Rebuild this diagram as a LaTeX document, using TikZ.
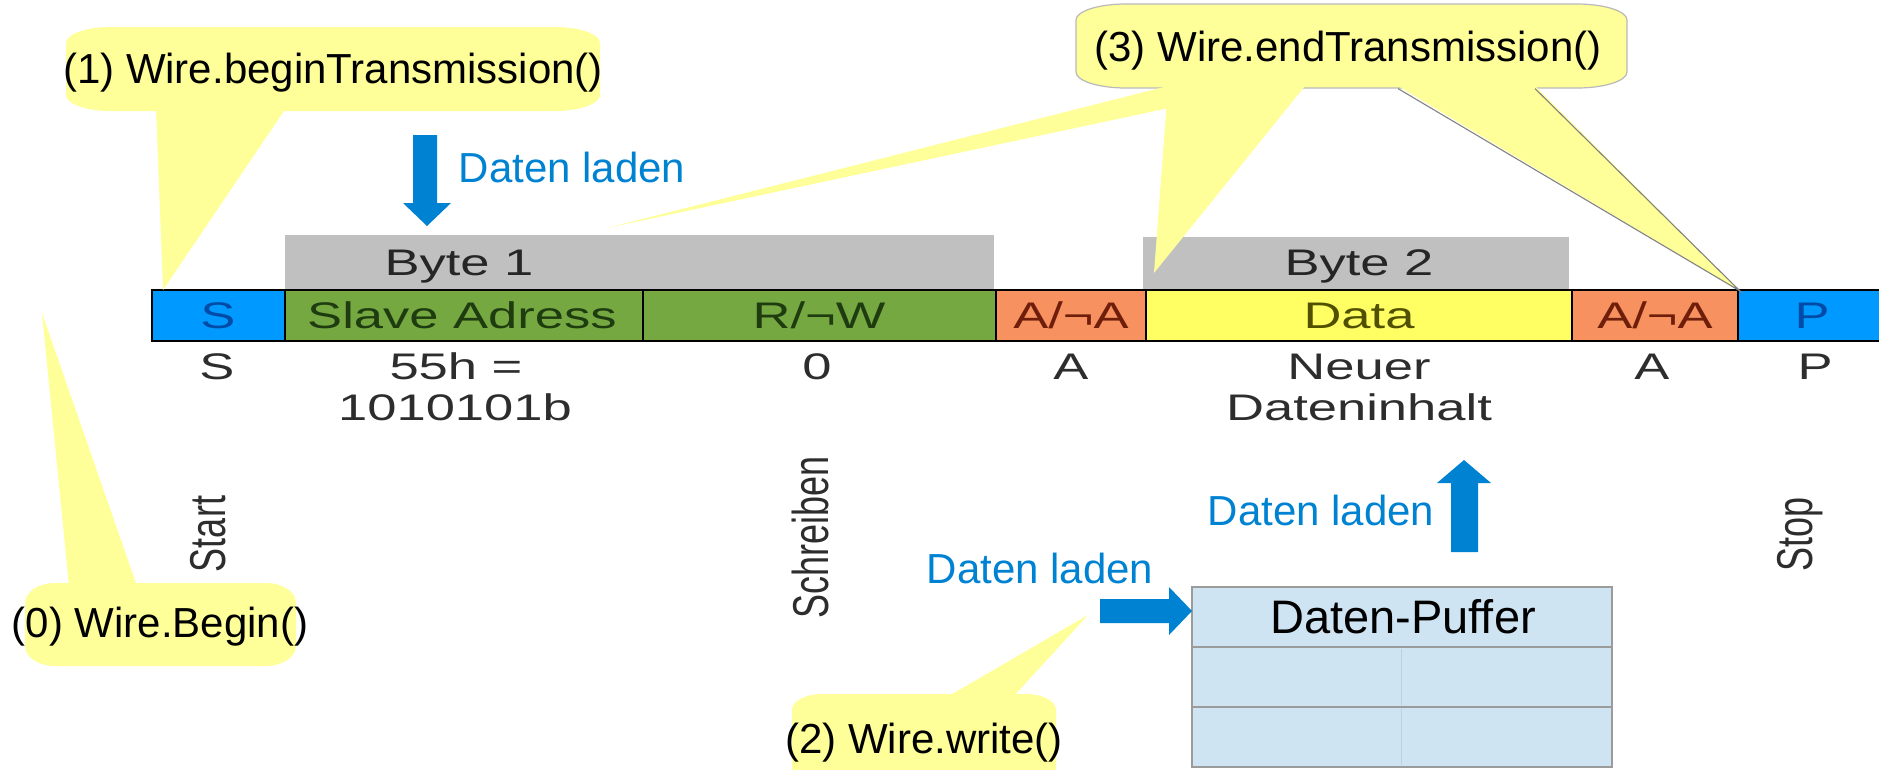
\documentclass[tikz,border=0pt]{standalone}
\usepackage{fontspec}
\setmainfont{Liberation Sans}
\usetikzlibrary{calc}

\definecolor{startblue}{RGB}{0,153,255}
\definecolor{startblueText}{RGB}{0,75,165}
\definecolor{addrgreen}{RGB}{118,168,66}
\definecolor{addrgreenText}{RGB}{30,60,15}
\definecolor{acksalmon}{RGB}{247,145,95}
\definecolor{acksalmonText}{RGB}{110,30,10}
\definecolor{datayellow}{RGB}{255,255,100}
\definecolor{datayellowText}{RGB}{80,80,0}
\definecolor{bytegray}{RGB}{192,192,192}
\definecolor{labelgray}{RGB}{45,45,45}
\definecolor{calloutyellow}{RGB}{255,255,153}
\definecolor{arrowblue}{RGB}{0,130,210}
\definecolor{bufferfill}{RGB}{207,228,243}
\definecolor{bufferline}{RGB}{155,155,155}
\definecolor{bufferdiv}{RGB}{190,208,222}
\definecolor{calloutline}{RGB}{185,185,185}

% rounded box with elliptical corners: [options]{x1}{y1}{x2}{y2}{rx}{ry}
\newcommand{\calloutbox}[7][]{%
  \path[#1] (#2,{#3+#7})
       .. controls (#2,{#3+0.448*#7}) and ({#2+0.448*#6},#3) .. ({#2+#6},#3)
    -- ({#4-#6},#3)
       .. controls ({#4-0.448*#6},#3) and (#4,{#3+0.448*#7}) .. (#4,{#3+#7})
    -- (#4,{#5-#7})
       .. controls (#4,{#5-0.448*#7}) and ({#4-0.448*#6},#5) .. ({#4-#6},#5)
    -- ({#2+#6},#5)
       .. controls ({#2+0.448*#6},#5) and (#2,{#5-0.448*#7}) .. (#2,{#5-#7})
    -- cycle;}

\tikzset{
  chartlbl/.style={font=\fontsize{37}{40}\selectfont, xscale=1.42, anchor=base,
    inner sep=0pt, text=labelgray},
  vlbl/.style={font=\fontsize{36}{40}\selectfont, xscale=1.4, rotate=90,
    anchor=center, inner sep=0pt, text=labelgray},
  calltext/.style={font=\fontsize{42}{46}\selectfont, anchor=base, inner sep=0pt,
    text=black},
  loadtext/.style={font=\fontsize{42}{46}\selectfont, anchor=base, inner sep=0pt,
    text=arrowblue},
  cellbox/.style={draw=black, line width=2.6pt},
  bufrow/.style={fill=bufferfill, draw=bufferline, line width=2pt},
  blockarrow/.style={fill=arrowblue},
  bubble/.style={fill=calloutyellow},
}

\begin{document}
\begin{tikzpicture}[x=1pt, y=-1pt]
\useasboundingbox (0,0) rectangle (1879,769);
\clip (0,0) rectangle (1879,769);

% ---- byte groups above the frame
\fill[bytegray] (285,235) rectangle (994,290);
\fill[bytegray] (1143,237) rectangle (1569,290);
\node[chartlbl, text=black!85] (byte1) at (459,275) {Byte 1};
\node[chartlbl, text=black!85] (byte2) at (1359,275) {Byte 2};

% ---- frame cells
\path[cellbox, fill=startblue]  (152,290) rectangle (285,341);
\path[cellbox, fill=addrgreen]  (285,290) rectangle (643,341);
\path[cellbox, fill=addrgreen]  (643,290) rectangle (996,341);
\path[cellbox, fill=acksalmon]  (996,290) rectangle (1146,341);
\path[cellbox, fill=datayellow] (1146,290) rectangle (1572,341);
\path[cellbox, fill=acksalmon]  (1572,290) rectangle (1738,341);
\path[cellbox, fill=startblue]  (1738,290) rectangle (1900,341);

\node[chartlbl, text=startblueText]   (cS)    at (218,328)  {S};
\node[chartlbl, text=addrgreenText]   (cAddr) at (462,328)  {Slave Adress};
\node[chartlbl, text=addrgreenText]   (cRW)   at (819,328)  {R/¬W};
\node[chartlbl, text=acksalmonText]   (cA1)   at (1071,328) {A/¬A};
\node[chartlbl, text=datayellowText]  (cData) at (1359,328) {Data};
\node[chartlbl, text=acksalmonText]   (cA2)   at (1655,328) {A/¬A};
\node[chartlbl, text=startblueText]   (cP)    at (1812,328) {P};

% ---- values below the frame
\node[chartlbl] (vS)    at (217,379)  {S};
\node[chartlbl] (vAddr) at (456,379)  {55h =};
\node[chartlbl] (vAddr2) at (455,420) {1010101b};
\node[chartlbl] (vRW)   at (817,379)  {0};
\node[chartlbl] (vA1)   at (1071,379) {A};
\node[chartlbl] (vData) at (1359,379) {Neuer};
\node[chartlbl] (vData2) at (1359,420) {Dateninhalt};
\node[chartlbl] (vA2)   at (1652,379) {A};
\node[chartlbl] (vP)    at (1815,379) {P};

% ---- vertical captions
\node[vlbl] (start)  at (208,534)  {Start};
\node[vlbl] (write)  at (810,537)  {Schreiben};
\node[vlbl] (stop)   at (1800,534) {Stop};

% ---- data buffer
\path[bufrow] (1192,587) rectangle (1612,647);
\path[bufrow] (1192,647) rectangle (1612,707);
\path[bufrow] (1192,707) rectangle (1612,767);
\draw[bufferdiv, line width=0.6pt] (1401,649) -- (1401,705) (1401,709) -- (1401,765);
\node[font=\fontsize{47}{50}\selectfont, anchor=base, inner sep=0pt] (buffer) at (1403,633) {Daten-Puffer};

% ---- block arrows
\fill[blockarrow] (413,135) -- (437,135) -- (437,203) -- (451,203) -- (427,226)
  -- (403,203) -- (413,203) -- cycle;
\node[loadtext] (load1) at (572,182) {Daten laden};

\fill[blockarrow] (1451,552) -- (1478,552) -- (1478,483) -- (1491,483) -- (1464,460)
  -- (1437,483) -- (1451,483) -- cycle;
\node[loadtext] (load3) at (1321,525) {Daten laden};

\coordinate (bufin) at (1192,611);
\fill[blockarrow] (1100,599) -- (1169,599) -- (1169,587) -- (bufin) -- (1169,635)
  -- (1169,623) -- (1100,623) -- cycle;
\node[loadtext] (load2) at (1040,583) {Daten laden};

% ---- callout (0)
\calloutbox[bubble]{25}{583}{296}{666}{30}{20}
\coordinate (tip0) at (42,313);
\fill[bubble] (69,586) -- (137,586) -- (tip0) -- cycle;
\node[calltext] (call0) at (160,637) {(0) Wire.Begin()};

% ---- callout (1)
\calloutbox[bubble]{66}{27}{600}{111}{45}{16}
\coordinate (tip1) at (163,290);
\fill[bubble] (156,108) -- (286,108) -- (tip1) -- cycle;
\node[calltext] (call1) at (333,83) {(1) Wire.beginTransmission()};

% ---- callout (2)
\calloutbox[bubble]{792}{694}{1056}{800}{30}{16}
\coordinate (tip2) at (1088,615);
\fill[bubble] (947,697) -- (1013,697) -- (tip2) -- cycle;
\node[calltext] (call2) at (924,753) {(2) Wire.write()};

% ---- callout (3)
\calloutbox[bubble, draw=calloutline, line width=1.2pt]{1076}{4}{1627}{88}{50}{16}
\coordinate (tip3a) at (607,228);
\coordinate (tip3b) at (1154,273);
\coordinate (tip3c) at (1740,291);
\fill[bubble] (1168,86) -- (1272,86) -- (tip3a) -- cycle;
\fill[bubble] (1168,86) -- (1305,86) -- (tip3b) -- cycle;
\fill[bubble] (1398,86) -- (1535,86) -- (tip3c) -- cycle;
\draw[calloutline!70!black, line width=1.1pt] (1398,88.6) -- (tip3c) -- (1535,88.6);
\node[calltext] (call3) at (1348,61) {(3) Wire.endTransmission()};
\end{tikzpicture}
\end{document}
